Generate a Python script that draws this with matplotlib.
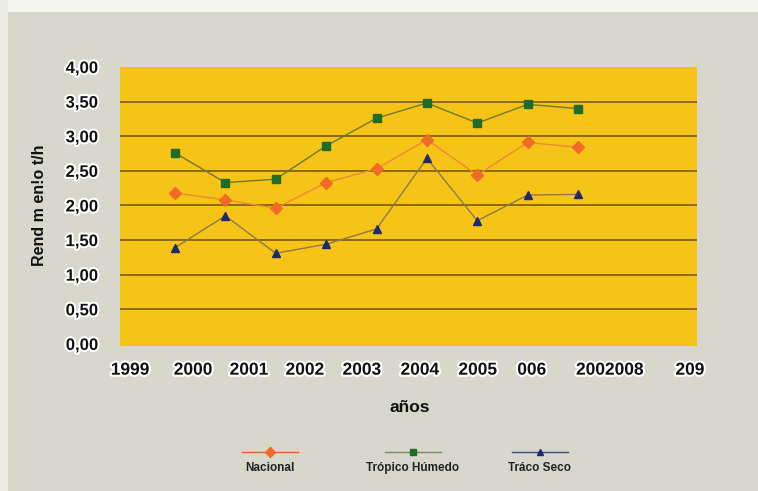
import matplotlib
matplotlib.use("Agg")
import matplotlib.pyplot as plt
import matplotlib.patheffects as pe
from matplotlib.lines import Line2D
from matplotlib.patches import Rectangle

plt.rcParams["font.family"] = ["Liberation Sans", "DejaVu Sans"]

years = [2000, 2001, 2002, 2003, 2004, 2005, 2006, 2007, 2008]
nacional = [2.18, 2.08, 1.96, 2.33, 2.53, 2.95, 2.44, 2.91, 2.84]
tropico_humedo = [2.76, 2.33, 2.38, 2.86, 3.26, 3.48, 3.19, 3.46, 3.40]
tropico_seco = [1.39, 1.85, 1.31, 1.44, 1.66, 2.68, 1.78, 2.15, 2.16]

series_names = ["Nacional", "Trópico Húmedo", "Tráco Seco"]
x_tick_pos = [1999.11, 2000.36, 2001.47, 2002.58, 2003.71, 2004.86, 2006.01, 2007.08, 2008.63, 2010.22]
x_tick_labels = ["1999", "2000", "2001", "2002", "2003", "2004", "2005", "006", "2002008", "209"]
y_ticks = [0, 0.5, 1.0, 1.5, 2.0, 2.5, 3.0, 3.5, 4.0]
y_tick_labels = ["0,00", "0,50", "1,00", "1,50", "2,00", "2,50", "3,00", "3,50", "4,00"]

W, H = 758, 491
fig = plt.figure(figsize=(W / 100, H / 100), dpi=100)
fig.patch.set_facecolor("#d8d7cb")
fig.add_artist(Rectangle((0, 1 - 12 / H), 1, 12 / H, transform=fig.transFigure,
                         facecolor="#f4f4f0", edgecolor="none", zorder=0))
fig.add_artist(Rectangle((0, 0), 8 / W, 1, transform=fig.transFigure,
                         facecolor="#ecebe5", edgecolor="none", zorder=0))

ax = fig.add_axes([120 / W, 1 - 346 / H, (697 - 120) / W, (346 - 67) / H])
ax.set_facecolor("#f6c417")
for s in ax.spines.values():
    s.set_visible(False)
ax.set_xlim(1998.91, 2010.36)
ax.set_ylim(-0.03, 4)

for yv in y_ticks[1:-1]:
    ax.axhline(yv, color="#6e5018", lw=1.1, zorder=1)

ax.plot(years, tropico_humedo, color="#6f7a2c", lw=1.0, marker="s", ms=6,
        mfc="#1f6b2a", mec="#1f6b2a", zorder=3)
ax.plot(years, nacional, color="#f08a3a", lw=1.0, marker="D", ms=6,
        mfc="#f06a28", mec="#f06a28", zorder=3)
ax.plot(years, tropico_seco, color="#8c7a4a", lw=1.0, marker="^", ms=6,
        mfc="#1e2a70", mec="#1e2a70", zorder=3)

glow = [pe.withStroke(linewidth=3, foreground="white")]
ax.set_yticks(y_ticks)
ax.set_yticklabels(y_tick_labels, fontsize=12, fontweight="bold", color="#111111")
for t in ax.get_yticklabels():
    t.set_path_effects(glow)
ax.tick_params(axis="y", length=0, pad=16)
ax.set_xticks(x_tick_pos)
ax.set_xticklabels(x_tick_labels, fontsize=12.5, fontweight="bold", color="#111111")
for t in ax.get_xticklabels():
    t.set_path_effects(glow)
ax.tick_params(axis="x", length=0, pad=12)

fig.text(40 / W, 1 - 205 / H, "Rend m en!o t/h", rotation=90, ha="center", va="center",
         fontsize=11.5, fontweight="bold", color="#111111")
fig.text(410 / W, 1 - 408 / H, "años", ha="center", va="center",
         fontsize=12.5, fontweight="bold", color="#111111")

legend_specs = [
    (270, "#e8602a", "D", "#f06a28", 5),
    (413, "#7a8a5a", "s", "#1f6b2a", 5),
    (540, "#3a4a7a", "^", "#1e2a70", 5),
]
for (cx, lc, mk, mc, ms), name in zip(legend_specs, series_names):
    y = 1 - 452 / H
    fig.add_artist(Line2D([(cx - 28) / W, (cx + 28) / W], [y, y], transform=fig.transFigure,
                          color=lc, lw=1.0))
    fig.add_artist(Line2D([cx / W], [y], transform=fig.transFigure, marker=mk, ms=ms,
                          mfc=mc, mec=mc, lw=0))
    fig.text(cx / W, 1 - 468 / H, name, ha="center", va="center", fontsize=8.5,
             fontweight="bold", color="#222222")

fig.savefig("out.png", dpi=100, facecolor=fig.get_facecolor())
